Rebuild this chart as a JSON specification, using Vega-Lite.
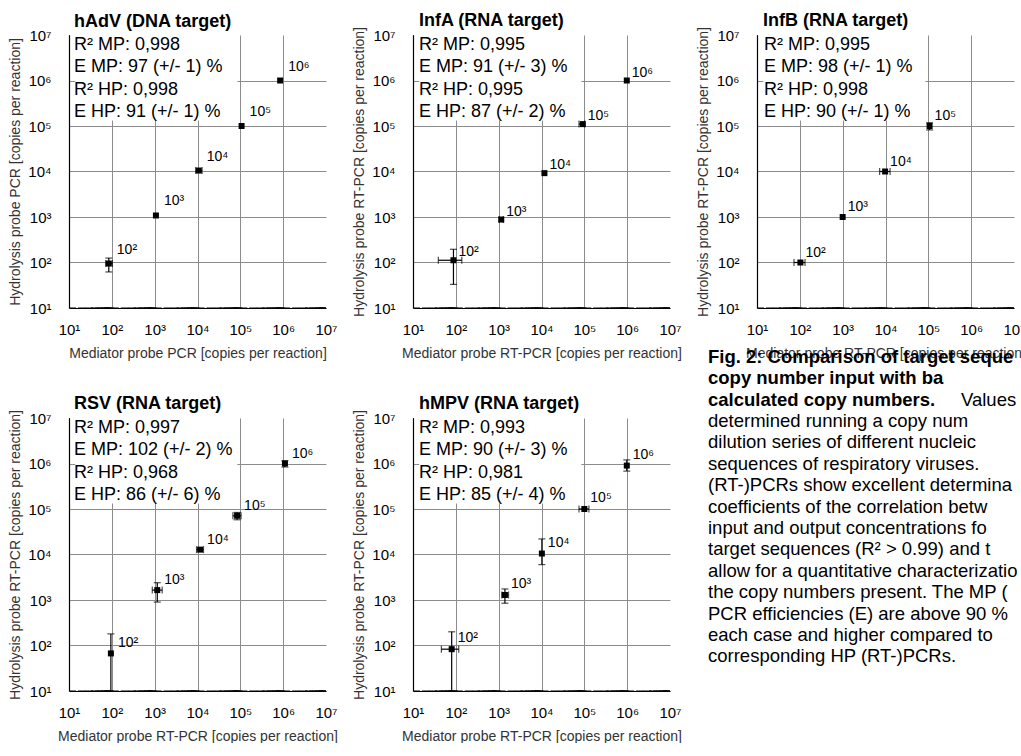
{
  "$schema": "https://vega.github.io/schema/vega-lite/v6.json",
  "background": "white",
  "padding": {"left": 8, "top": 11, "right": 0, "bottom": 0},
  "bounds": "flush",
  "columns": 3,
  "spacing": {"row": 110, "column": 87},
  "config": {"view": {"stroke": null}, "font": "Liberation Sans"},
  "datasets": {
    "all": [
      {"kind": "pt", "panel": "hAdV", "x": 85, "y": 95, "xlo": 72, "xhi": 103, "ylo": 62, "yhi": 125, "label": "10²"},
      {"kind": "pt", "panel": "hAdV", "x": 1070, "y": 1080, "xlo": null, "xhi": null, "ylo": null, "yhi": null, "label": "10³"},
      {"kind": "pt", "panel": "hAdV", "x": 10700, "y": 10500, "xlo": 9100, "xhi": 12800, "ylo": null, "yhi": null, "label": "10⁴"},
      {"kind": "pt", "panel": "hAdV", "x": 107000, "y": 100000, "xlo": null, "xhi": null, "ylo": null, "yhi": null, "label": "10⁵"},
      {"kind": "pt", "panel": "hAdV", "x": 850000, "y": 1000000, "xlo": null, "xhi": null, "ylo": null, "yhi": null, "label": "10⁶"},
      {"kind": "pt", "panel": "InfA", "x": 88, "y": 112, "xlo": 39, "xhi": 138, "ylo": 33, "yhi": 195, "label": "10²"},
      {"kind": "pt", "panel": "InfA", "x": 1150, "y": 880, "xlo": 1030, "xhi": 1280, "ylo": null, "yhi": null, "label": "10³"},
      {"kind": "pt", "panel": "InfA", "x": 11700, "y": 9200, "xlo": null, "xhi": null, "ylo": null, "yhi": null, "label": "10⁴"},
      {"kind": "pt", "panel": "InfA", "x": 92000, "y": 110000, "xlo": 75000, "xhi": 102000, "ylo": null, "yhi": null, "label": "10⁵"},
      {"kind": "pt", "panel": "InfA", "x": 980000, "y": 1000000, "xlo": null, "xhi": null, "ylo": null, "yhi": null, "label": "10⁶"},
      {"kind": "pt", "panel": "InfB", "x": 103, "y": 100, "xlo": 73, "xhi": 132, "ylo": null, "yhi": null, "label": "10²"},
      {"kind": "pt", "panel": "InfB", "x": 1000, "y": 1000, "xlo": null, "xhi": null, "ylo": null, "yhi": null, "label": "10³"},
      {"kind": "pt", "panel": "InfB", "x": 9800, "y": 10000, "xlo": 7300, "xhi": 12800, "ylo": null, "yhi": null, "label": "10⁴"},
      {"kind": "pt", "panel": "InfB", "x": 107000, "y": 100000, "xlo": null, "xhi": null, "ylo": 82000, "yhi": 118000, "label": "10⁵"},
      {"kind": "pt", "panel": "RSV", "x": 95, "y": 67, "xlo": null, "xhi": null, "ylo": 3, "yhi": 180, "label": "10²"},
      {"kind": "pt", "panel": "RSV", "x": 1150, "y": 1650, "xlo": 880, "xhi": 1500, "ylo": 900, "yhi": 2400, "label": "10³"},
      {"kind": "pt", "panel": "RSV", "x": 11500, "y": 12800, "xlo": 9500, "xhi": 13800, "ylo": null, "yhi": null, "label": "10⁴"},
      {"kind": "pt", "panel": "RSV", "x": 84000, "y": 71000, "xlo": 67000, "xhi": 104000, "ylo": 58000, "yhi": 84000, "label": "10⁵"},
      {"kind": "pt", "panel": "RSV", "x": 1100000, "y": 1000000, "xlo": null, "xhi": null, "ylo": 840000, "yhi": 1150000, "label": "10⁶"},
      {"kind": "pt", "panel": "hMPV", "x": 80, "y": 83, "xlo": 46, "xhi": 117, "ylo": 3, "yhi": 200, "label": "10²"},
      {"kind": "pt", "panel": "hMPV", "x": 1400, "y": 1290, "xlo": 1180, "xhi": 1700, "ylo": 850, "yhi": 1750, "label": "10³"},
      {"kind": "pt", "panel": "hMPV", "x": 10200, "y": 10500, "xlo": null, "xhi": null, "ylo": 6000, "yhi": 22000, "label": "10⁴"},
      {"kind": "pt", "panel": "hMPV", "x": 100000, "y": 100000, "xlo": 75000, "xhi": 128000, "ylo": null, "yhi": null, "label": "10⁵"},
      {"kind": "pt", "panel": "hMPV", "x": 980000, "y": 900000, "xlo": null, "xhi": null, "ylo": 680000, "yhi": 1200000, "label": "10⁶"},
      {"kind": "box", "panel": "hAdV", "x": 10, "y": 10000000, "t": "R² MP: 0,998\nE MP: 97 (+/- 1) %\nR² HP: 0,998\nE HP: 91 (+/- 1) %"},
      {"kind": "box", "panel": "InfA", "x": 10, "y": 10000000, "t": "R² MP: 0,995\nE MP: 91 (+/- 3) %\nR² HP: 0,995\nE HP: 87 (+/- 2) %"},
      {"kind": "box", "panel": "InfB", "x": 10, "y": 10000000, "t": "R² MP: 0,995\nE MP: 98 (+/- 1) %\nR² HP: 0,998\nE HP: 90 (+/- 1) %"},
      {"kind": "box", "panel": "RSV", "x": 10, "y": 10000000, "t": "R² MP: 0,997\nE MP: 102 (+/- 2) %\nR² HP: 0,968\nE HP: 86 (+/- 6) %"},
      {"kind": "box", "panel": "hMPV", "x": 10, "y": 10000000, "t": "R² MP: 0,993\nE MP: 90 (+/- 3) %\nR² HP: 0,981\nE HP: 85 (+/- 4) %"},
      {"kind": "xt", "x": 10, "y": 10, "m": 1}, {"kind": "xt", "x": 20, "y": 10, "m": 0}, {"kind": "xt", "x": 30, "y": 10, "m": 0}, {"kind": "xt", "x": 40, "y": 10, "m": 0}, {"kind": "xt", "x": 50, "y": 10, "m": 0}, {"kind": "xt", "x": 60, "y": 10, "m": 0}, {"kind": "xt", "x": 70, "y": 10, "m": 0}, {"kind": "xt", "x": 80, "y": 10, "m": 0}, {"kind": "xt", "x": 90, "y": 10, "m": 0},
      {"kind": "xt", "x": 100, "y": 10, "m": 1}, {"kind": "xt", "x": 200, "y": 10, "m": 0}, {"kind": "xt", "x": 300, "y": 10, "m": 0}, {"kind": "xt", "x": 400, "y": 10, "m": 0}, {"kind": "xt", "x": 500, "y": 10, "m": 0}, {"kind": "xt", "x": 600, "y": 10, "m": 0}, {"kind": "xt", "x": 700, "y": 10, "m": 0}, {"kind": "xt", "x": 800, "y": 10, "m": 0}, {"kind": "xt", "x": 900, "y": 10, "m": 0},
      {"kind": "xt", "x": 1000, "y": 10, "m": 1}, {"kind": "xt", "x": 2000, "y": 10, "m": 0}, {"kind": "xt", "x": 3000, "y": 10, "m": 0}, {"kind": "xt", "x": 4000, "y": 10, "m": 0}, {"kind": "xt", "x": 5000, "y": 10, "m": 0}, {"kind": "xt", "x": 6000, "y": 10, "m": 0}, {"kind": "xt", "x": 7000, "y": 10, "m": 0}, {"kind": "xt", "x": 8000, "y": 10, "m": 0}, {"kind": "xt", "x": 9000, "y": 10, "m": 0},
      {"kind": "xt", "x": 10000, "y": 10, "m": 1}, {"kind": "xt", "x": 20000, "y": 10, "m": 0}, {"kind": "xt", "x": 30000, "y": 10, "m": 0}, {"kind": "xt", "x": 40000, "y": 10, "m": 0}, {"kind": "xt", "x": 50000, "y": 10, "m": 0}, {"kind": "xt", "x": 60000, "y": 10, "m": 0}, {"kind": "xt", "x": 70000, "y": 10, "m": 0}, {"kind": "xt", "x": 80000, "y": 10, "m": 0}, {"kind": "xt", "x": 90000, "y": 10, "m": 0},
      {"kind": "xt", "x": 100000, "y": 10, "m": 1}, {"kind": "xt", "x": 200000, "y": 10, "m": 0}, {"kind": "xt", "x": 300000, "y": 10, "m": 0}, {"kind": "xt", "x": 400000, "y": 10, "m": 0}, {"kind": "xt", "x": 500000, "y": 10, "m": 0}, {"kind": "xt", "x": 600000, "y": 10, "m": 0}, {"kind": "xt", "x": 700000, "y": 10, "m": 0}, {"kind": "xt", "x": 800000, "y": 10, "m": 0}, {"kind": "xt", "x": 900000, "y": 10, "m": 0},
      {"kind": "xt", "x": 1000000, "y": 10, "m": 1}, {"kind": "xt", "x": 2000000, "y": 10, "m": 0}, {"kind": "xt", "x": 3000000, "y": 10, "m": 0}, {"kind": "xt", "x": 4000000, "y": 10, "m": 0}, {"kind": "xt", "x": 5000000, "y": 10, "m": 0}, {"kind": "xt", "x": 6000000, "y": 10, "m": 0}, {"kind": "xt", "x": 7000000, "y": 10, "m": 0}, {"kind": "xt", "x": 8000000, "y": 10, "m": 0}, {"kind": "xt", "x": 9000000, "y": 10, "m": 0},
      {"kind": "xt", "x": 10000000, "y": 10, "m": 1},
      {"kind": "yt", "y": 10, "x": 10, "m": 1}, {"kind": "yt", "y": 20, "x": 10, "m": 0}, {"kind": "yt", "y": 30, "x": 10, "m": 0}, {"kind": "yt", "y": 40, "x": 10, "m": 0}, {"kind": "yt", "y": 50, "x": 10, "m": 0}, {"kind": "yt", "y": 60, "x": 10, "m": 0}, {"kind": "yt", "y": 70, "x": 10, "m": 0}, {"kind": "yt", "y": 80, "x": 10, "m": 0}, {"kind": "yt", "y": 90, "x": 10, "m": 0},
      {"kind": "yt", "y": 100, "x": 10, "m": 1}, {"kind": "yt", "y": 200, "x": 10, "m": 0}, {"kind": "yt", "y": 300, "x": 10, "m": 0}, {"kind": "yt", "y": 400, "x": 10, "m": 0}, {"kind": "yt", "y": 500, "x": 10, "m": 0}, {"kind": "yt", "y": 600, "x": 10, "m": 0}, {"kind": "yt", "y": 700, "x": 10, "m": 0}, {"kind": "yt", "y": 800, "x": 10, "m": 0}, {"kind": "yt", "y": 900, "x": 10, "m": 0},
      {"kind": "yt", "y": 1000, "x": 10, "m": 1}, {"kind": "yt", "y": 2000, "x": 10, "m": 0}, {"kind": "yt", "y": 3000, "x": 10, "m": 0}, {"kind": "yt", "y": 4000, "x": 10, "m": 0}, {"kind": "yt", "y": 5000, "x": 10, "m": 0}, {"kind": "yt", "y": 6000, "x": 10, "m": 0}, {"kind": "yt", "y": 7000, "x": 10, "m": 0}, {"kind": "yt", "y": 8000, "x": 10, "m": 0}, {"kind": "yt", "y": 9000, "x": 10, "m": 0},
      {"kind": "yt", "y": 10000, "x": 10, "m": 1}, {"kind": "yt", "y": 20000, "x": 10, "m": 0}, {"kind": "yt", "y": 30000, "x": 10, "m": 0}, {"kind": "yt", "y": 40000, "x": 10, "m": 0}, {"kind": "yt", "y": 50000, "x": 10, "m": 0}, {"kind": "yt", "y": 60000, "x": 10, "m": 0}, {"kind": "yt", "y": 70000, "x": 10, "m": 0}, {"kind": "yt", "y": 80000, "x": 10, "m": 0}, {"kind": "yt", "y": 90000, "x": 10, "m": 0},
      {"kind": "yt", "y": 100000, "x": 10, "m": 1}, {"kind": "yt", "y": 200000, "x": 10, "m": 0}, {"kind": "yt", "y": 300000, "x": 10, "m": 0}, {"kind": "yt", "y": 400000, "x": 10, "m": 0}, {"kind": "yt", "y": 500000, "x": 10, "m": 0}, {"kind": "yt", "y": 600000, "x": 10, "m": 0}, {"kind": "yt", "y": 700000, "x": 10, "m": 0}, {"kind": "yt", "y": 800000, "x": 10, "m": 0}, {"kind": "yt", "y": 900000, "x": 10, "m": 0},
      {"kind": "yt", "y": 1000000, "x": 10, "m": 1}, {"kind": "yt", "y": 2000000, "x": 10, "m": 0}, {"kind": "yt", "y": 3000000, "x": 10, "m": 0}, {"kind": "yt", "y": 4000000, "x": 10, "m": 0}, {"kind": "yt", "y": 5000000, "x": 10, "m": 0}, {"kind": "yt", "y": 6000000, "x": 10, "m": 0}, {"kind": "yt", "y": 7000000, "x": 10, "m": 0}, {"kind": "yt", "y": 8000000, "x": 10, "m": 0}, {"kind": "yt", "y": 9000000, "x": 10, "m": 0},
      {"kind": "yt", "y": 10000000, "x": 10, "m": 1}
    ],
    "caption": [
      {"line": 0, "w": "b", "text": "Fig. 2: Comparison of target seque"},
      {"line": 1, "w": "b", "text": "copy number input with ba"},
      {"line": 2, "w": "b", "text": "calculated copy numbers."},
      {"line": 2, "w": "s", "text": "Values"},
      {"line": 3, "w": "r", "text": "determined running a copy num"},
      {"line": 4, "w": "r", "text": "dilution series of different nucleic"},
      {"line": 5, "w": "r", "text": "sequences of respiratory viruses."},
      {"line": 6, "w": "r", "text": "(RT-)PCRs show excellent determina"},
      {"line": 7, "w": "r", "text": "coefficients of the correlation betw"},
      {"line": 8, "w": "r", "text": "input and output concentrations fo"},
      {"line": 9, "w": "r", "text": "target sequences (R² > 0.99) and t"},
      {"line": 10, "w": "r", "text": "allow for a quantitative characterizatio"},
      {"line": 11, "w": "r", "text": "the copy numbers present. The MP ("},
      {"line": 12, "w": "r", "text": "PCR efficiencies (E) are above 90 %"},
      {"line": 13, "w": "r", "text": "each case and higher compared to"},
      {"line": 14, "w": "r", "text": "corresponding HP (RT-)PCRs."}
    ]
  },
  "concat": [
    {
      "width": 257, "height": 273,
      "title": {"text": "hAdV (DNA target)", "anchor": "start", "frame": "group", "dx": 5, "offset": -3, "fontSize": 18, "font": "Liberation Sans", "fontWeight": "bold", "color": "black"},
      "data": {"name": "all"},
      "encoding": {
        "x": {"field": "x", "type": "quantitative", "scale": {"type": "log", "domain": [10, 10000000], "nice": false},
          "axis": {"title": "Mediator probe PCR [copies per reaction]", "values": [10,20,30,40,50,60,70,80,90,100,200,300,400,500,600,700,800,900,1000,2000,3000,4000,5000,6000,7000,8000,9000,10000,20000,30000,40000,50000,60000,70000,80000,90000,100000,200000,300000,400000,500000,600000,700000,800000,900000,1000000,2000000,3000000,4000000,5000000,6000000,7000000,8000000,9000000,10000000],
            "labelExpr": "datum.value==10?'10¹':datum.value==100?'10²':datum.value==1000?'10³':datum.value==10000?'10⁴':datum.value==100000?'10⁵':datum.value==1000000?'10⁶':datum.value==10000000?'10⁷':''",
            "ticks": false, "tickSize": 0,
            "gridOpacity": {"condition": {"test": "indexof([100,1000,10000,100000,1000000], datum.value) >= 0", "value": 1}, "value": 0},
            "grid": true, "gridColor": "#8c8c8c", "domainColor": "black", "domainWidth": 1.2, "labelFont": "Liberation Sans", "labelFontSize": 15, "labelColor": "black", "labelPadding": 14, "labelFlush": false, "labelOverlap": false, "labelBound": false, "titleFont": "Liberation Sans", "titleFontSize": 14, "titleFontWeight": "normal", "titleColor": "#333", "titlePadding": 9}},
        "y": {"field": "y", "type": "quantitative", "scale": {"type": "log", "domain": [10, 10000000], "nice": false},
          "axis": {"title": "Hydrolysis probe PCR [copies per reaction]", "values": [10,20,30,40,50,60,70,80,90,100,200,300,400,500,600,700,800,900,1000,2000,3000,4000,5000,6000,7000,8000,9000,10000,20000,30000,40000,50000,60000,70000,80000,90000,100000,200000,300000,400000,500000,600000,700000,800000,900000,1000000,2000000,3000000,4000000,5000000,6000000,7000000,8000000,9000000,10000000],
            "labelExpr": "datum.value==10?'10¹':datum.value==100?'10²':datum.value==1000?'10³':datum.value==10000?'10⁴':datum.value==100000?'10⁵':datum.value==1000000?'10⁶':datum.value==10000000?'10⁷':''",
            "ticks": false, "tickSize": 0,
            "gridOpacity": {"condition": {"test": "indexof([100,1000,10000,100000,1000000], datum.value) >= 0", "value": 1}, "value": 0},
            "grid": true, "gridColor": "#8c8c8c", "domainColor": "black", "domainWidth": 1.2, "labelFont": "Liberation Sans", "labelFontSize": 15, "labelColor": "black", "labelPadding": 18, "labelFlush": false, "labelOverlap": false, "labelBound": false, "titleFont": "Liberation Sans", "titleFontSize": 14, "titleFontWeight": "normal", "titleColor": "#333", "titlePadding": 5}}
      },
      "layer": [
        {"transform": [{"filter": "datum.kind == 'box' && datum.panel == 'hAdV'"}], "mark": {"type": "rect", "fill": "white"}, "encoding": {"x": {"datum": 14, "type": "quantitative"}, "x2": {"datum": 85000}, "y": {"datum": 132000, "type": "quantitative"}, "y2": {"datum": 10000000}}},
        {"transform": [{"filter": "datum.kind == 'xt' && datum.m == 1"}], "mark": {"type": "tick", "orient": "horizontal", "size": 14, "thickness": 1, "color": "black", "opacity": 1, "clip": true}},
        {"transform": [{"filter": "datum.kind == 'xt' && datum.m == 0"}], "mark": {"type": "tick", "orient": "horizontal", "size": 8, "thickness": 1, "color": "black", "opacity": 1, "clip": true}},
        {"transform": [{"filter": "datum.kind == 'yt' && datum.m == 1"}], "mark": {"type": "tick", "orient": "vertical", "size": 14, "thickness": 1, "color": "black", "opacity": 1, "clip": true}},
        {"transform": [{"filter": "datum.kind == 'yt' && datum.m == 0"}], "mark": {"type": "tick", "orient": "vertical", "size": 8, "thickness": 1, "color": "black", "opacity": 1, "clip": true}},
        {"transform": [{"filter": "datum.kind == 'pt' && datum.panel == 'hAdV' && isValid(datum.ylo)"}], "mark": {"type": "errorbar", "ticks": true, "size": 7, "thickness": 1.2, "color": "black", "clip": true}, "encoding": {"y": {"field": "ylo", "type": "quantitative"}, "y2": {"field": "yhi"}}},
        {"transform": [{"filter": "datum.kind == 'pt' && datum.panel == 'hAdV' && isValid(datum.xlo)"}], "mark": {"type": "errorbar", "ticks": true, "size": 7, "thickness": 1.2, "color": "black", "clip": true}, "encoding": {"x": {"field": "xlo", "type": "quantitative"}, "x2": {"field": "xhi"}}},
        {"transform": [{"filter": "datum.kind == 'pt' && datum.panel == 'hAdV'"}], "mark": {"type": "square", "size": 36, "color": "black", "opacity": 1}},
        {"transform": [{"filter": "datum.kind == 'pt' && datum.panel == 'hAdV'"}], "mark": {"type": "text", "align": "left", "baseline": "alphabetic", "dx": 8, "dy": -10, "fontSize": 14, "font": "Liberation Sans", "color": "black"}, "encoding": {"text": {"field": "label"}}},
        {"transform": [{"filter": "datum.kind == 'box' && datum.panel == 'hAdV'"}], "mark": {"type": "text", "align": "left", "baseline": "top", "lineBreak": "\n", "dx": 5, "dy": 1, "fontSize": 18, "lineHeight": 22.3, "font": "Liberation Sans", "color": "black"}, "encoding": {"text": {"field": "t"}}}
      ]
    },
    {
      "width": 257, "height": 273,
      "title": {"text": "InfA (RNA target)", "anchor": "start", "frame": "group", "dx": 6, "offset": -3, "fontSize": 18, "font": "Liberation Sans", "fontWeight": "bold", "color": "black"},
      "data": {"name": "all"},
      "encoding": {
        "x": {"field": "x", "type": "quantitative", "scale": {"type": "log", "domain": [10, 10000000], "nice": false},
          "axis": {"title": "Mediator probe RT-PCR  [copies per reaction]", "values": [10,20,30,40,50,60,70,80,90,100,200,300,400,500,600,700,800,900,1000,2000,3000,4000,5000,6000,7000,8000,9000,10000,20000,30000,40000,50000,60000,70000,80000,90000,100000,200000,300000,400000,500000,600000,700000,800000,900000,1000000,2000000,3000000,4000000,5000000,6000000,7000000,8000000,9000000,10000000],
            "labelExpr": "datum.value==10?'10¹':datum.value==100?'10²':datum.value==1000?'10³':datum.value==10000?'10⁴':datum.value==100000?'10⁵':datum.value==1000000?'10⁶':datum.value==10000000?'10⁷':''",
            "ticks": false, "tickSize": 0,
            "gridOpacity": {"condition": {"test": "indexof([100,1000,10000,100000,1000000], datum.value) >= 0", "value": 1}, "value": 0},
            "grid": true, "gridColor": "#8c8c8c", "domainColor": "black", "domainWidth": 1.2, "labelFont": "Liberation Sans", "labelFontSize": 15, "labelColor": "black", "labelPadding": 14, "labelFlush": false, "labelOverlap": false, "labelBound": false, "titleFont": "Liberation Sans", "titleFontSize": 14, "titleFontWeight": "normal", "titleColor": "#333", "titlePadding": 9}},
        "y": {"field": "y", "type": "quantitative", "scale": {"type": "log", "domain": [10, 10000000], "nice": false},
          "axis": {"title": "Hydrolysis probe RT-PCR [copies per reaction]", "values": [10,20,30,40,50,60,70,80,90,100,200,300,400,500,600,700,800,900,1000,2000,3000,4000,5000,6000,7000,8000,9000,10000,20000,30000,40000,50000,60000,70000,80000,90000,100000,200000,300000,400000,500000,600000,700000,800000,900000,1000000,2000000,3000000,4000000,5000000,6000000,7000000,8000000,9000000,10000000],
            "labelExpr": "datum.value==10?'10¹':datum.value==100?'10²':datum.value==1000?'10³':datum.value==10000?'10⁴':datum.value==100000?'10⁵':datum.value==1000000?'10⁶':datum.value==10000000?'10⁷':''",
            "ticks": false, "tickSize": 0,
            "gridOpacity": {"condition": {"test": "indexof([100,1000,10000,100000,1000000], datum.value) >= 0", "value": 1}, "value": 0},
            "grid": true, "gridColor": "#8c8c8c", "domainColor": "black", "domainWidth": 1.2, "labelFont": "Liberation Sans", "labelFontSize": 15, "labelColor": "black", "labelPadding": 18, "labelFlush": false, "labelOverlap": false, "labelBound": false, "titleFont": "Liberation Sans", "titleFontSize": 14, "titleFontWeight": "normal", "titleColor": "#333", "titlePadding": 5}}
      },
      "layer": [
        {"transform": [{"filter": "datum.kind == 'box' && datum.panel == 'InfA'"}], "mark": {"type": "rect", "fill": "white"}, "encoding": {"x": {"datum": 14, "type": "quantitative"}, "x2": {"datum": 85000}, "y": {"datum": 132000, "type": "quantitative"}, "y2": {"datum": 10000000}}},
        {"transform": [{"filter": "datum.kind == 'xt' && datum.m == 1"}], "mark": {"type": "tick", "orient": "horizontal", "size": 14, "thickness": 1, "color": "black", "opacity": 1, "clip": true}},
        {"transform": [{"filter": "datum.kind == 'xt' && datum.m == 0"}], "mark": {"type": "tick", "orient": "horizontal", "size": 8, "thickness": 1, "color": "black", "opacity": 1, "clip": true}},
        {"transform": [{"filter": "datum.kind == 'yt' && datum.m == 1"}], "mark": {"type": "tick", "orient": "vertical", "size": 14, "thickness": 1, "color": "black", "opacity": 1, "clip": true}},
        {"transform": [{"filter": "datum.kind == 'yt' && datum.m == 0"}], "mark": {"type": "tick", "orient": "vertical", "size": 8, "thickness": 1, "color": "black", "opacity": 1, "clip": true}},
        {"transform": [{"filter": "datum.kind == 'pt' && datum.panel == 'InfA' && isValid(datum.ylo)"}], "mark": {"type": "errorbar", "ticks": true, "size": 7, "thickness": 1.2, "color": "black", "clip": true}, "encoding": {"y": {"field": "ylo", "type": "quantitative"}, "y2": {"field": "yhi"}}},
        {"transform": [{"filter": "datum.kind == 'pt' && datum.panel == 'InfA' && isValid(datum.xlo)"}], "mark": {"type": "errorbar", "ticks": true, "size": 7, "thickness": 1.2, "color": "black", "clip": true}, "encoding": {"x": {"field": "xlo", "type": "quantitative"}, "x2": {"field": "xhi"}}},
        {"transform": [{"filter": "datum.kind == 'pt' && datum.panel == 'InfA'"}], "mark": {"type": "square", "size": 36, "color": "black", "opacity": 1}},
        {"transform": [{"filter": "datum.kind == 'pt' && datum.panel == 'InfA'"}], "mark": {"type": "text", "align": "left", "baseline": "alphabetic", "dx": 5, "dy": -4, "fontSize": 14, "font": "Liberation Sans", "color": "black"}, "encoding": {"text": {"field": "label"}}},
        {"transform": [{"filter": "datum.kind == 'box' && datum.panel == 'InfA'"}], "mark": {"type": "text", "align": "left", "baseline": "top", "lineBreak": "\n", "dx": 6, "dy": 1, "fontSize": 18, "lineHeight": 22.3, "font": "Liberation Sans", "color": "black"}, "encoding": {"text": {"field": "t"}}}
      ]
    },
    {
      "width": 257, "height": 273,
      "title": {"text": "InfB (RNA target)", "anchor": "start", "frame": "group", "dx": 6, "offset": -3, "fontSize": 18, "font": "Liberation Sans", "fontWeight": "bold", "color": "black"},
      "data": {"name": "all"},
      "encoding": {
        "x": {"field": "x", "type": "quantitative", "scale": {"type": "log", "domain": [10, 10000000], "nice": false},
          "axis": {"title": "Mediator probe RT-PCR [copies per reaction]", "values": [10,20,30,40,50,60,70,80,90,100,200,300,400,500,600,700,800,900,1000,2000,3000,4000,5000,6000,7000,8000,9000,10000,20000,30000,40000,50000,60000,70000,80000,90000,100000,200000,300000,400000,500000,600000,700000,800000,900000,1000000,2000000,3000000,4000000,5000000,6000000,7000000,8000000,9000000,10000000],
            "labelExpr": "datum.value==10?'10¹':datum.value==100?'10²':datum.value==1000?'10³':datum.value==10000?'10⁴':datum.value==100000?'10⁵':datum.value==1000000?'10⁶':datum.value==10000000?'10⁷':''",
            "ticks": false, "tickSize": 0,
            "gridOpacity": {"condition": {"test": "indexof([100,1000,10000,100000,1000000], datum.value) >= 0", "value": 1}, "value": 0},
            "grid": true, "gridColor": "#8c8c8c", "domainColor": "black", "domainWidth": 1.2, "labelFont": "Liberation Sans", "labelFontSize": 15, "labelColor": "black", "labelPadding": 14, "labelFlush": false, "labelOverlap": false, "labelBound": false, "titleFont": "Liberation Sans", "titleFontSize": 14, "titleFontWeight": "normal", "titleColor": "#333", "titlePadding": 9}},
        "y": {"field": "y", "type": "quantitative", "scale": {"type": "log", "domain": [10, 10000000], "nice": false},
          "axis": {"title": "Hydrolysis probe RT-PCR [copies per reaction]", "values": [10,20,30,40,50,60,70,80,90,100,200,300,400,500,600,700,800,900,1000,2000,3000,4000,5000,6000,7000,8000,9000,10000,20000,30000,40000,50000,60000,70000,80000,90000,100000,200000,300000,400000,500000,600000,700000,800000,900000,1000000,2000000,3000000,4000000,5000000,6000000,7000000,8000000,9000000,10000000],
            "labelExpr": "datum.value==10?'10¹':datum.value==100?'10²':datum.value==1000?'10³':datum.value==10000?'10⁴':datum.value==100000?'10⁵':datum.value==1000000?'10⁶':datum.value==10000000?'10⁷':''",
            "ticks": false, "tickSize": 0,
            "gridOpacity": {"condition": {"test": "indexof([100,1000,10000,100000,1000000], datum.value) >= 0", "value": 1}, "value": 0},
            "grid": true, "gridColor": "#8c8c8c", "domainColor": "black", "domainWidth": 1.2, "labelFont": "Liberation Sans", "labelFontSize": 15, "labelColor": "black", "labelPadding": 18, "labelFlush": false, "labelOverlap": false, "labelBound": false, "titleFont": "Liberation Sans", "titleFontSize": 14, "titleFontWeight": "normal", "titleColor": "#333", "titlePadding": 5}}
      },
      "layer": [
        {"transform": [{"filter": "datum.kind == 'box' && datum.panel == 'InfB'"}], "mark": {"type": "rect", "fill": "white"}, "encoding": {"x": {"datum": 14, "type": "quantitative"}, "x2": {"datum": 85000}, "y": {"datum": 132000, "type": "quantitative"}, "y2": {"datum": 10000000}}},
        {"transform": [{"filter": "datum.kind == 'xt' && datum.m == 1"}], "mark": {"type": "tick", "orient": "horizontal", "size": 14, "thickness": 1, "color": "black", "opacity": 1, "clip": true}},
        {"transform": [{"filter": "datum.kind == 'xt' && datum.m == 0"}], "mark": {"type": "tick", "orient": "horizontal", "size": 8, "thickness": 1, "color": "black", "opacity": 1, "clip": true}},
        {"transform": [{"filter": "datum.kind == 'yt' && datum.m == 1"}], "mark": {"type": "tick", "orient": "vertical", "size": 14, "thickness": 1, "color": "black", "opacity": 1, "clip": true}},
        {"transform": [{"filter": "datum.kind == 'yt' && datum.m == 0"}], "mark": {"type": "tick", "orient": "vertical", "size": 8, "thickness": 1, "color": "black", "opacity": 1, "clip": true}},
        {"transform": [{"filter": "datum.kind == 'pt' && datum.panel == 'InfB' && isValid(datum.ylo)"}], "mark": {"type": "errorbar", "ticks": true, "size": 7, "thickness": 1.2, "color": "black", "clip": true}, "encoding": {"y": {"field": "ylo", "type": "quantitative"}, "y2": {"field": "yhi"}}},
        {"transform": [{"filter": "datum.kind == 'pt' && datum.panel == 'InfB' && isValid(datum.xlo)"}], "mark": {"type": "errorbar", "ticks": true, "size": 7, "thickness": 1.2, "color": "black", "clip": true}, "encoding": {"x": {"field": "xlo", "type": "quantitative"}, "x2": {"field": "xhi"}}},
        {"transform": [{"filter": "datum.kind == 'pt' && datum.panel == 'InfB'"}], "mark": {"type": "square", "size": 36, "color": "black", "opacity": 1}},
        {"transform": [{"filter": "datum.kind == 'pt' && datum.panel == 'InfB'"}], "mark": {"type": "text", "align": "left", "baseline": "alphabetic", "dx": 5, "dy": -6, "fontSize": 14, "font": "Liberation Sans", "color": "black"}, "encoding": {"text": {"field": "label"}}},
        {"transform": [{"filter": "datum.kind == 'box' && datum.panel == 'InfB'"}], "mark": {"type": "text", "align": "left", "baseline": "top", "lineBreak": "\n", "dx": 7, "dy": 1, "fontSize": 18, "lineHeight": 22.3, "font": "Liberation Sans", "color": "black"}, "encoding": {"text": {"field": "t"}}}
      ]
    },
    {
      "width": 257, "height": 273,
      "title": {"text": "RSV (RNA target)", "anchor": "start", "frame": "group", "dx": 5, "offset": -3, "fontSize": 18, "font": "Liberation Sans", "fontWeight": "bold", "color": "black"},
      "data": {"name": "all"},
      "encoding": {
        "x": {"field": "x", "type": "quantitative", "scale": {"type": "log", "domain": [10, 10000000], "nice": false},
          "axis": {"title": "Mediator probe RT-PCR [copies per reaction]", "values": [10,20,30,40,50,60,70,80,90,100,200,300,400,500,600,700,800,900,1000,2000,3000,4000,5000,6000,7000,8000,9000,10000,20000,30000,40000,50000,60000,70000,80000,90000,100000,200000,300000,400000,500000,600000,700000,800000,900000,1000000,2000000,3000000,4000000,5000000,6000000,7000000,8000000,9000000,10000000],
            "labelExpr": "datum.value==10?'10¹':datum.value==100?'10²':datum.value==1000?'10³':datum.value==10000?'10⁴':datum.value==100000?'10⁵':datum.value==1000000?'10⁶':datum.value==10000000?'10⁷':''",
            "ticks": false, "tickSize": 0,
            "gridOpacity": {"condition": {"test": "indexof([100,1000,10000,100000,1000000], datum.value) >= 0", "value": 1}, "value": 0},
            "grid": true, "gridColor": "#8c8c8c", "domainColor": "black", "domainWidth": 1.2, "labelFont": "Liberation Sans", "labelFontSize": 15, "labelColor": "black", "labelPadding": 14, "labelFlush": false, "labelOverlap": false, "labelBound": false, "titleFont": "Liberation Sans", "titleFontSize": 14, "titleFontWeight": "normal", "titleColor": "#333", "titlePadding": 9}},
        "y": {"field": "y", "type": "quantitative", "scale": {"type": "log", "domain": [10, 10000000], "nice": false},
          "axis": {"title": "Hydrolysis probe RT-PCR [copies per reaction]", "values": [10,20,30,40,50,60,70,80,90,100,200,300,400,500,600,700,800,900,1000,2000,3000,4000,5000,6000,7000,8000,9000,10000,20000,30000,40000,50000,60000,70000,80000,90000,100000,200000,300000,400000,500000,600000,700000,800000,900000,1000000,2000000,3000000,4000000,5000000,6000000,7000000,8000000,9000000,10000000],
            "labelExpr": "datum.value==10?'10¹':datum.value==100?'10²':datum.value==1000?'10³':datum.value==10000?'10⁴':datum.value==100000?'10⁵':datum.value==1000000?'10⁶':datum.value==10000000?'10⁷':''",
            "ticks": false, "tickSize": 0,
            "gridOpacity": {"condition": {"test": "indexof([100,1000,10000,100000,1000000], datum.value) >= 0", "value": 1}, "value": 0},
            "grid": true, "gridColor": "#8c8c8c", "domainColor": "black", "domainWidth": 1.2, "labelFont": "Liberation Sans", "labelFontSize": 15, "labelColor": "black", "labelPadding": 18, "labelFlush": false, "labelOverlap": false, "labelBound": false, "titleFont": "Liberation Sans", "titleFontSize": 14, "titleFontWeight": "normal", "titleColor": "#333", "titlePadding": 5}}
      },
      "layer": [
        {"transform": [{"filter": "datum.kind == 'box' && datum.panel == 'RSV'"}], "mark": {"type": "rect", "fill": "white"}, "encoding": {"x": {"datum": 14, "type": "quantitative"}, "x2": {"datum": 85000}, "y": {"datum": 132000, "type": "quantitative"}, "y2": {"datum": 10000000}}},
        {"transform": [{"filter": "datum.kind == 'xt' && datum.m == 1"}], "mark": {"type": "tick", "orient": "horizontal", "size": 14, "thickness": 1, "color": "black", "opacity": 1, "clip": true}},
        {"transform": [{"filter": "datum.kind == 'xt' && datum.m == 0"}], "mark": {"type": "tick", "orient": "horizontal", "size": 8, "thickness": 1, "color": "black", "opacity": 1, "clip": true}},
        {"transform": [{"filter": "datum.kind == 'yt' && datum.m == 1"}], "mark": {"type": "tick", "orient": "vertical", "size": 14, "thickness": 1, "color": "black", "opacity": 1, "clip": true}},
        {"transform": [{"filter": "datum.kind == 'yt' && datum.m == 0"}], "mark": {"type": "tick", "orient": "vertical", "size": 8, "thickness": 1, "color": "black", "opacity": 1, "clip": true}},
        {"transform": [{"filter": "datum.kind == 'pt' && datum.panel == 'RSV' && isValid(datum.ylo)"}], "mark": {"type": "errorbar", "ticks": true, "size": 7, "thickness": 1.2, "color": "black", "clip": true}, "encoding": {"y": {"field": "ylo", "type": "quantitative"}, "y2": {"field": "yhi"}}},
        {"transform": [{"filter": "datum.kind == 'pt' && datum.panel == 'RSV' && isValid(datum.xlo)"}], "mark": {"type": "errorbar", "ticks": true, "size": 7, "thickness": 1.2, "color": "black", "clip": true}, "encoding": {"x": {"field": "xlo", "type": "quantitative"}, "x2": {"field": "xhi"}}},
        {"transform": [{"filter": "datum.kind == 'pt' && datum.panel == 'RSV'"}], "mark": {"type": "square", "size": 36, "color": "black", "opacity": 1}},
        {"transform": [{"filter": "datum.kind == 'pt' && datum.panel == 'RSV'"}], "mark": {"type": "text", "align": "left", "baseline": "alphabetic", "dx": 7, "dy": -6, "fontSize": 14, "font": "Liberation Sans", "color": "black"}, "encoding": {"text": {"field": "label"}}},
        {"transform": [{"filter": "datum.kind == 'box' && datum.panel == 'RSV'"}], "mark": {"type": "text", "align": "left", "baseline": "top", "lineBreak": "\n", "dx": 5, "dy": 1, "fontSize": 18, "lineHeight": 22.3, "font": "Liberation Sans", "color": "black"}, "encoding": {"text": {"field": "t"}}}
      ]
    },
    {
      "width": 257, "height": 273,
      "title": {"text": "hMPV (RNA target)", "anchor": "start", "frame": "group", "dx": 6, "offset": -3, "fontSize": 18, "font": "Liberation Sans", "fontWeight": "bold", "color": "black"},
      "data": {"name": "all"},
      "encoding": {
        "x": {"field": "x", "type": "quantitative", "scale": {"type": "log", "domain": [10, 10000000], "nice": false},
          "axis": {"title": "Mediator probe RT-PCR [copies per reaction]", "values": [10,20,30,40,50,60,70,80,90,100,200,300,400,500,600,700,800,900,1000,2000,3000,4000,5000,6000,7000,8000,9000,10000,20000,30000,40000,50000,60000,70000,80000,90000,100000,200000,300000,400000,500000,600000,700000,800000,900000,1000000,2000000,3000000,4000000,5000000,6000000,7000000,8000000,9000000,10000000],
            "labelExpr": "datum.value==10?'10¹':datum.value==100?'10²':datum.value==1000?'10³':datum.value==10000?'10⁴':datum.value==100000?'10⁵':datum.value==1000000?'10⁶':datum.value==10000000?'10⁷':''",
            "ticks": false, "tickSize": 0,
            "gridOpacity": {"condition": {"test": "indexof([100,1000,10000,100000,1000000], datum.value) >= 0", "value": 1}, "value": 0},
            "grid": true, "gridColor": "#8c8c8c", "domainColor": "black", "domainWidth": 1.2, "labelFont": "Liberation Sans", "labelFontSize": 15, "labelColor": "black", "labelPadding": 14, "labelFlush": false, "labelOverlap": false, "labelBound": false, "titleFont": "Liberation Sans", "titleFontSize": 14, "titleFontWeight": "normal", "titleColor": "#333", "titlePadding": 9}},
        "y": {"field": "y", "type": "quantitative", "scale": {"type": "log", "domain": [10, 10000000], "nice": false},
          "axis": {"title": "Hydrolysis probe RT-PCR [copies per reaction]", "values": [10,20,30,40,50,60,70,80,90,100,200,300,400,500,600,700,800,900,1000,2000,3000,4000,5000,6000,7000,8000,9000,10000,20000,30000,40000,50000,60000,70000,80000,90000,100000,200000,300000,400000,500000,600000,700000,800000,900000,1000000,2000000,3000000,4000000,5000000,6000000,7000000,8000000,9000000,10000000],
            "labelExpr": "datum.value==10?'10¹':datum.value==100?'10²':datum.value==1000?'10³':datum.value==10000?'10⁴':datum.value==100000?'10⁵':datum.value==1000000?'10⁶':datum.value==10000000?'10⁷':''",
            "ticks": false, "tickSize": 0,
            "gridOpacity": {"condition": {"test": "indexof([100,1000,10000,100000,1000000], datum.value) >= 0", "value": 1}, "value": 0},
            "grid": true, "gridColor": "#8c8c8c", "domainColor": "black", "domainWidth": 1.2, "labelFont": "Liberation Sans", "labelFontSize": 15, "labelColor": "black", "labelPadding": 18, "labelFlush": false, "labelOverlap": false, "labelBound": false, "titleFont": "Liberation Sans", "titleFontSize": 14, "titleFontWeight": "normal", "titleColor": "#333", "titlePadding": 5}}
      },
      "layer": [
        {"transform": [{"filter": "datum.kind == 'box' && datum.panel == 'hMPV'"}], "mark": {"type": "rect", "fill": "white"}, "encoding": {"x": {"datum": 14, "type": "quantitative"}, "x2": {"datum": 85000}, "y": {"datum": 132000, "type": "quantitative"}, "y2": {"datum": 10000000}}},
        {"transform": [{"filter": "datum.kind == 'xt' && datum.m == 1"}], "mark": {"type": "tick", "orient": "horizontal", "size": 14, "thickness": 1, "color": "black", "opacity": 1, "clip": true}},
        {"transform": [{"filter": "datum.kind == 'xt' && datum.m == 0"}], "mark": {"type": "tick", "orient": "horizontal", "size": 8, "thickness": 1, "color": "black", "opacity": 1, "clip": true}},
        {"transform": [{"filter": "datum.kind == 'yt' && datum.m == 1"}], "mark": {"type": "tick", "orient": "vertical", "size": 14, "thickness": 1, "color": "black", "opacity": 1, "clip": true}},
        {"transform": [{"filter": "datum.kind == 'yt' && datum.m == 0"}], "mark": {"type": "tick", "orient": "vertical", "size": 8, "thickness": 1, "color": "black", "opacity": 1, "clip": true}},
        {"transform": [{"filter": "datum.kind == 'pt' && datum.panel == 'hMPV' && isValid(datum.ylo)"}], "mark": {"type": "errorbar", "ticks": true, "size": 7, "thickness": 1.2, "color": "black", "clip": true}, "encoding": {"y": {"field": "ylo", "type": "quantitative"}, "y2": {"field": "yhi"}}},
        {"transform": [{"filter": "datum.kind == 'pt' && datum.panel == 'hMPV' && isValid(datum.xlo)"}], "mark": {"type": "errorbar", "ticks": true, "size": 7, "thickness": 1.2, "color": "black", "clip": true}, "encoding": {"x": {"field": "xlo", "type": "quantitative"}, "x2": {"field": "xhi"}}},
        {"transform": [{"filter": "datum.kind == 'pt' && datum.panel == 'hMPV'"}], "mark": {"type": "square", "size": 36, "color": "black", "opacity": 1}},
        {"transform": [{"filter": "datum.kind == 'pt' && datum.panel == 'hMPV'"}], "mark": {"type": "text", "align": "left", "baseline": "alphabetic", "dx": 6, "dy": -7, "fontSize": 14, "font": "Liberation Sans", "color": "black"}, "encoding": {"text": {"field": "label"}}},
        {"transform": [{"filter": "datum.kind == 'box' && datum.panel == 'hMPV'"}], "mark": {"type": "text", "align": "left", "baseline": "top", "lineBreak": "\n", "dx": 6, "dy": 1, "fontSize": 18, "lineHeight": 22.3, "font": "Liberation Sans", "color": "black"}, "encoding": {"text": {"field": "t"}}}
      ]
    },
    {
      "width": 265, "height": 321,
      "data": {"name": "caption"},
      "encoding": {
        "x": {"datum": 0, "type": "quantitative", "scale": {"domain": [0, 1]}, "axis": null},
        "y": {"field": "line", "type": "ordinal", "scale": {"type": "point", "padding": 0.5}, "axis": null},
        "text": {"field": "text"}
      },
      "layer": [
        {"transform": [{"filter": "datum.w == 'b'"}], "mark": {"type": "text", "align": "left", "baseline": "middle", "dx": -49, "dy": -72, "fontSize": 18.5, "fontWeight": "bold", "font": "Liberation Sans", "color": "black"}},
        {"transform": [{"filter": "datum.w == 'r'"}], "mark": {"type": "text", "align": "left", "baseline": "middle", "dx": -49, "dy": -72, "fontSize": 18.5, "font": "Liberation Sans", "color": "black"}},
        {"transform": [{"filter": "datum.w == 's'"}], "mark": {"type": "text", "align": "left", "baseline": "middle", "dx": 204, "dy": -72, "fontSize": 18.5, "font": "Liberation Sans", "color": "black"}}
      ]
    }
  ]
}
